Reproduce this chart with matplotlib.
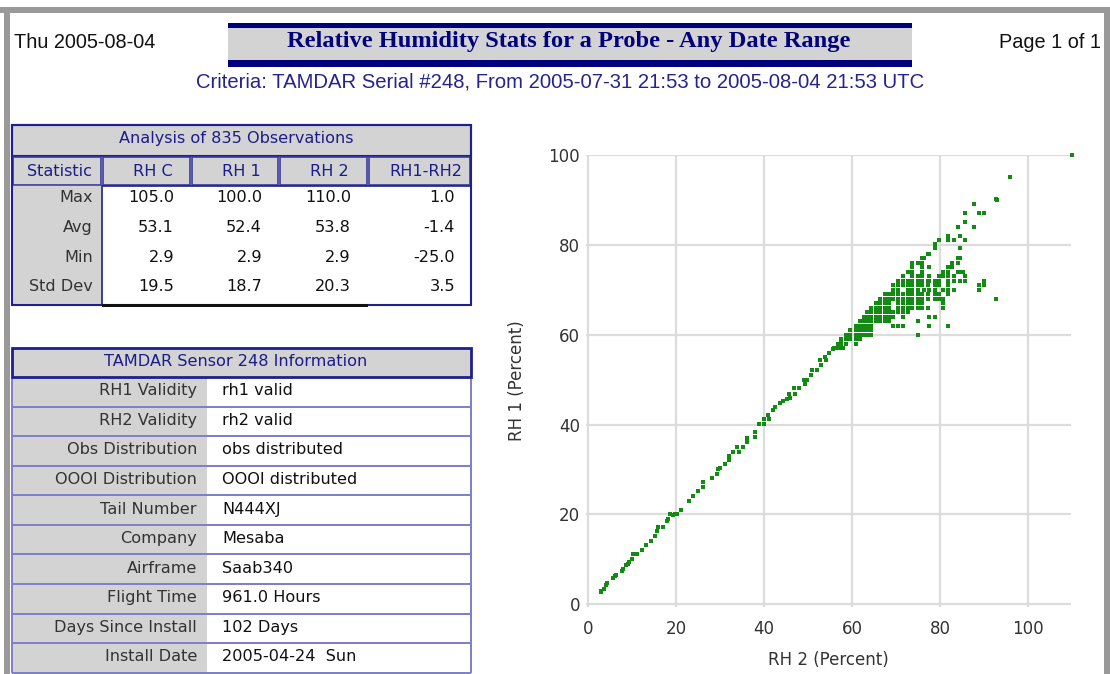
import matplotlib
matplotlib.use("Agg")
import matplotlib.pyplot as plt
from matplotlib.patches import Rectangle

# ---------------- data ----------------
report_date = "Thu 2005-08-04"
page_text = "Page 1 of 1"
title_text = "Relative Humidity Stats for a Probe - Any Date Range"
criteria_text = "Criteria: TAMDAR Serial #248, From 2005-07-31 21:53 to 2005-08-04 21:53 UTC"

stats_title = "Analysis of 835 Observations"
stats_columns = ["Statistic", "RH C", "RH 1", "RH 2", "RH1-RH2"]
stats_rows = ["Max", "Avg", "Min", "Std Dev"]
stat_rhc = [105.0, 53.1, 2.9, 19.5]
stat_rh1 = [100.0, 52.4, 2.9, 18.7]
stat_rh2 = [110.0, 53.8, 2.9, 20.3]
stat_diff = [1.0, -1.4, -25.0, 3.5]

info_title = "TAMDAR Sensor 248 Information"
info_labels = ["RH1 Validity", "RH2 Validity", "Obs Distribution", "OOOI Distribution",
               "Tail Number", "Company", "Airframe", "Flight Time",
               "Days Since Install", "Install Date"]
info_values = ["rh1 valid", "rh2 valid", "obs distributed", "OOOI distributed",
               "N444XJ", "Mesaba", "Saab340", "961.0 Hours", "102 Days",
               "2005-04-24  Sun"]

# scatter: diagonal part (RH 2, RH 1)
diag_rh2 = [2.9, 3.0, 3.6, 4.0, 4.3, 5.7, 6.1, 6.3, 7.6, 7.8, 8.7, 9.0, 9.3, 9.9, 10.1,
            11.0, 12.2, 13.1, 14.2, 15.2, 15.7, 15.9, 17.1, 18.0, 18.2, 18.6, 19.2, 19.7,
            20.1, 21.0, 21.2, 22.9, 23.9, 25.0, 26.0, 26.2, 28.1, 29.2, 29.6, 30.0, 31.0,
            32.0, 32.1, 33.0, 34.2, 33.9, 35.3, 36.2, 36.2, 37.9, 37.9, 38.9, 40.0, 40.0,
            41.2, 40.9, 42.1, 42.5, 43.7, 44.4, 45.1, 45.9, 45.7, 47.0, 46.8, 48.0, 49.3,
            49.0, 49.7, 50.6, 51.0, 52.1, 52.9, 52.7, 53.8, 54.1, 54.8, 55.7, 56.5, 56.9,
            57.6, 58.0]
diag_rh1 = [2.9, 2.8, 3.5, 4.2, 4.8, 5.9, 6.4, 6.5, 7.4, 7.9, 8.7, 9.0, 9.4, 10.0, 11.1,
            11.3, 12.1, 13.1, 14.1, 15.2, 16.3, 17.3, 17.3, 18.5, 19.0, 20.0, 19.8, 20.0,
            20.1, 21.0, 21.1, 23.0, 24.1, 25.2, 26.1, 27.2, 28.1, 29.1, 30.1, 30.4, 31.3,
            32.2, 33.0, 33.9, 33.9, 35.0, 35.0, 36.1, 37.0, 37.3, 38.3, 40.2, 40.2, 41.3,
            41.3, 42.2, 43.3, 43.9, 44.8, 45.2, 45.6, 45.9, 46.9, 46.9, 48.1, 48.1, 49.1,
            50.0, 50.0, 51.1, 52.2, 52.2, 53.3, 54.3, 55.0, 54.4, 56.0, 56.8, 57.0, 57.9,
            58.1, 57.0]

# scatter: spread part, one RH 1 level per row with its RH 2 values
cluster_rh1 = [78, 77, 76, 75, 74, 73, 72, 71, 70, 69, 68, 67, 66, 65, 64, 63, 62, 61,
               60, 59, 58, 57]
cluster_rh2 = [
    [77.2, 77.6],
    [75.8, 76.4, 84.0, 84.6],
    [73.7, 74.9, 75.8, 82.7, 84.0],
    [73.7, 75.8, 77.6, 81.9, 82.7],
    [72.8, 73.7, 75.8, 80.7, 81.9, 84.0, 84.6, 85.2],
    [71.6, 73.7, 74.9, 75.8, 77.6, 79.8, 80.7, 81.9, 83.1, 85.8],
    [70.4, 71.6, 72.8, 73.7, 74.9, 75.8, 77.2, 77.6, 78.8, 79.8, 81.9, 83.1, 84.6, 85.8, 90.0],
    [69.3, 70.4, 71.6, 72.8, 73.7, 74.9, 75.8, 77.2, 78.8, 79.8, 81.9, 88.8, 90.0],
    [69.3, 70.4, 72.8, 73.7, 74.9, 76.4, 77.6, 78.8, 80.7, 81.9, 83.1, 88.8],
    [67.5, 68.4, 69.3, 70.4, 71.6, 72.8, 73.7, 74.9, 75.8, 77.2, 78.8, 79.8, 81.9],
    [66.3, 67.5, 68.4, 69.3, 70.4, 71.6, 72.8, 73.7, 74.9, 75.8, 77.2, 78.8, 79.8, 80.7, 92.7],
    [65.4, 66.3, 67.5, 68.4, 70.4, 71.6, 72.8, 73.7, 74.9, 75.8, 80.7],
    [64.4, 65.4, 66.3, 67.5, 68.4, 70.4, 71.6, 72.8, 73.7, 74.9, 75.8, 77.2, 80.7],
    [63.5, 64.4, 65.4, 66.3, 67.5, 68.4, 69.3, 70.4, 71.6, 72.8],
    [62.7, 63.5, 64.4, 65.4, 66.3, 67.5, 68.4, 69.3, 71.6, 77.6, 78.8],
    [61.8, 62.7, 63.5, 64.4, 65.4, 66.3, 67.5, 68.4, 74.9],
    [60.9, 61.8, 62.7, 63.5, 64.4, 69.3, 70.4, 71.6, 77.6, 81.9],
    [59.6, 60.9, 61.8, 62.7, 63.5, 64.4],
    [58.7, 59.6, 60.9, 61.8, 62.7, 63.5, 64.4, 74.9],
    [57.6, 58.7, 59.6, 60.9, 61.8],
    [56.7, 57.6, 58.7, 60.9],
    [55.8, 56.7, 57.6],
]

# scatter: high outliers
high_rh2 = [110.0, 96.0, 92.7, 92.9, 87.7, 88.8, 90.0, 85.8, 85.8, 84.0, 87.7, 81.9,
            84.6, 79.8, 81.9, 83.1, 85.8, 78.8, 78.8, 84.6]
high_rh1 = [100.0, 95.0, 90.2, 90.0, 89.1, 87.0, 87.0, 87.1, 85.0, 84.0, 84.0, 82.0,
            82.0, 81.0, 81.0, 81.0, 81.0, 80.3, 79.3, 79.2]

x_ticks = [0, 20, 40, 60, 80, 100]
y_ticks = [0, 20, 40, 60, 80, 100]

# ---------------- figure ----------------
W, H = 1110, 674
fig = plt.figure(figsize=(W / 100, H / 100), dpi=100)
fig.patch.set_facecolor("white")

NAVY = "#00007f"
TABLE_BORDER = "#1f1f8f"
ROW_LINE = "#8080c8"
GRAY = "#d3d3d3"
SANS_T = "DejaVu Sans"
TFS = 11.6  # table font size


def rect(x, y, w, h, fc="none", ec="none", lw=0.0, z=1):
    fig.add_artist(Rectangle((x / W, 1 - (y + h) / H), w / W, h / H,
                             transform=fig.transFigure, facecolor=fc,
                             edgecolor=ec, linewidth=lw, zorder=z))


def text(x, y, s, **kw):
    fig.text(x / W, 1 - y / H, s, **kw)


# page frame
rect(0, 7, W, 6, fc="#999999")
rect(4, 7, 6, H - 7, fc="#999999")
rect(1104, 7, 6, H - 7, fc="#999999")

# header
text(14, 43, report_date, fontsize=14.3, family="Liberation Sans", va="center", ha="left", color="#111111")
text(1101, 43, page_text, fontsize=14.3, family="Liberation Sans", va="center", ha="right", color="#111111")
rect(228, 27, 684, 33, fc=GRAY)
rect(228, 23, 684, 4.5, fc=NAVY)
rect(228, 60, 684, 6.5, fc=NAVY)
text(569, 42, title_text, fontsize=17.6, family="Liberation Serif", weight="bold",
     va="center", ha="center", color=NAVY)
text(560, 82, criteria_text, fontsize=14.6, family="Liberation Sans", va="center",
     ha="center", color="#24248f")

# ---- table 1 ----
t1_left, t1_right = 12, 471
rect(t1_left, 125, t1_right - t1_left, 31, fc=GRAY, ec=TABLE_BORDER, lw=1.5, z=2)
text(236, 139, stats_title, fontsize=TFS, family=SANS_T,
     va="center", ha="center", color="#1c1c8c", zorder=5)
col_edges = [12, 102, 191, 279, 368, 471]
for i, name in enumerate(stats_columns):
    x0, x1 = col_edges[i], col_edges[i + 1]
    rect(x0 + 1, 157, x1 - x0 - 2, 28, fc=GRAY, ec="#3a3a9e", lw=1.2, z=2)
    cx = (x0 + x1) / 2 + (3 if i == 0 else 6)
    text(cx, 171, name, fontsize=TFS, family=SANS_T, va="center", ha="center",
         color="#1c1c8c", zorder=5)
rect(12, 186, 90, 119, fc=GRAY, z=1)
rect(102, 186, 369, 119, fc="white", ec=TABLE_BORDER, lw=1.2, z=2)
rect(12, 125, 459, 180, fc="none", ec=TABLE_BORDER, lw=1.5, z=3)
rect(102, 304, 266, 3, fc="#111111", z=3)
value_right = [174, 262, 351, 455]
for r, label in enumerate(stats_rows):
    cy = 198 + r * 29.6
    text(93, cy, label, fontsize=TFS, family=SANS_T, va="center", ha="right",
         color="#333333", zorder=5)
    for c, series in enumerate([stat_rhc, stat_rh1, stat_rh2, stat_diff]):
        text(value_right[c], cy, f"{series[r]:.1f}", fontsize=TFS, family=SANS_T,
             va="center", ha="right", color="#111111", zorder=5)

# ---- table 2 ----
rect(12, 348, 459, 29, fc=GRAY, ec=TABLE_BORDER, lw=2, z=3)
text(236, 361, info_title, fontsize=TFS, family=SANS_T, va="center", ha="center",
     color="#1c1c8c", zorder=5)
row_h = 29.57
for i, (lab, val) in enumerate(zip(info_labels, info_values)):
    y0 = 377 + i * row_h
    rect(12, y0, 195, row_h, fc=GRAY, z=1)
    rect(207, y0, 264, row_h, fc="white", z=1)
    rect(12, y0 + row_h - 1, 459, 2, fc=ROW_LINE, z=2)
    text(197, y0 + row_h / 2 - 1, lab, fontsize=TFS, family=SANS_T, va="center",
         ha="right", color="#333333", zorder=5)
    text(222, y0 + row_h / 2 - 1, val, fontsize=TFS, family=SANS_T, va="center",
         ha="left", color="#111111", zorder=5)
rect(11, 377, 2, 10 * row_h, fc=ROW_LINE, z=2)
rect(470, 377, 2, 10 * row_h, fc=ROW_LINE, z=2)

# ---- scatter ----
ax_l, ax_r, ax_t, ax_b = 585.6, 1071, 155, 607
ax = fig.add_axes([ax_l / W, (H - ax_b) / H, (ax_r - ax_l) / W, (ax_b - ax_t) / H])
ax.set_facecolor("white")
xs = list(diag_rh2) + list(high_rh2)
ys = list(diag_rh1) + list(high_rh1)
for lvl, row in zip(cluster_rh1, cluster_rh2):
    xs.extend(row)
    ys.extend([lvl] * len(row))
ax.scatter(xs, ys, marker="s", s=5, color="#138a13", linewidths=0, zorder=3, clip_on=False)
ax.set_xlim(-0.6, 109.8)
ax.set_ylim(-0.6, 100)
ax.set_xticks(x_ticks)
ax.set_yticks(y_ticks)
ax.grid(True, color="#dcdcdc", linewidth=1.6)
ax.set_axisbelow(True)
for s in ax.spines.values():
    s.set_visible(False)
ax.tick_params(length=0, labelsize=12, labelcolor="#333333")
ax.tick_params(axis="x", pad=9)
ax.tick_params(axis="y", pad=4)
for lab in ax.get_xticklabels() + ax.get_yticklabels():
    lab.set_family(SANS_T)
ax.set_xlabel("RH 2 (Percent)", fontsize=12, color="#333333", family=SANS_T, labelpad=10)
ax.set_ylabel("RH 1 (Percent)", fontsize=12, color="#333333", family=SANS_T, labelpad=16)

fig.savefig("out.png", dpi=100)
